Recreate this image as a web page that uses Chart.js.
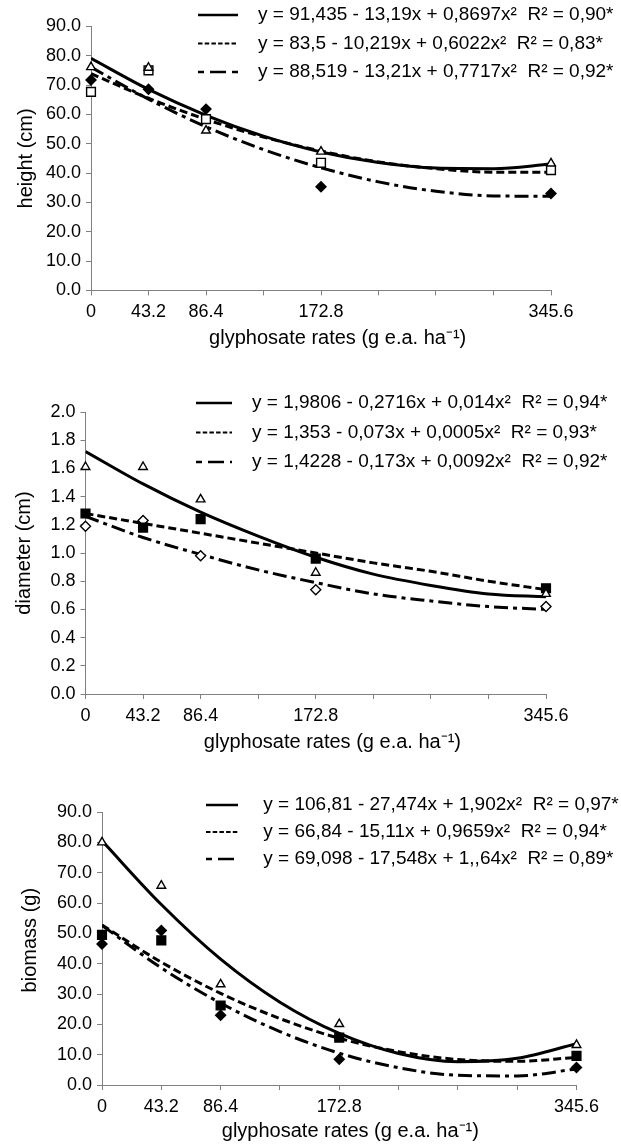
<!DOCTYPE html>
<html><head><meta charset="utf-8">
<script src="https://cdn.jsdelivr.net/npm/chart.js@4/dist/chart.umd.min.js"></script>
<style>
html,body{margin:0;padding:0;background:#fff;width:621px;height:1147px;overflow:hidden;}
canvas{position:absolute;left:0;}
</style></head><body>
<canvas id="c1" width="621" height="355" style="top:0px;width:621px;height:355px"></canvas>
<canvas id="c2" width="621" height="400" style="top:355px;width:621px;height:400px"></canvas>
<canvas id="c3" width="621" height="392" style="top:755px;width:621px;height:392px"></canvas>
<script>
// ---------- data ----------
const doses = [0, 43.2, 86.4, 172.8, 345.6];
const curveDoses = [0, 43.2, 86.4, 129.6, 172.8, 216, 259.2, 302.4, 345.6];
const xTickLabels = ['0', '43.2', '86.4', '172.8', '345.6'];
const xTitle = 'glyphosate rates (g e.a. ha\u207B\u00B9)';

// height (cm)
const heightTriangle = [76.1, 75.9, 54.5, 47.3, 43.3];
const heightSquare   = [67.7, 75.0, 58.4, 43.5, 41.0];
const heightDiamond  = [71.7, 68.6, 61.8, 35.3, 33.0];
const heightSolid    = [79.1, 68.5, 59.7, 52.6, 47.2, 43.6, 41.7, 41.5, 43.1];
const heightDashed   = [73.9, 65.5, 58.3, 52.3, 47.5, 43.8, 41.5, 40.3, 40.3];
const heightDashDot  = [76.1, 65.2, 55.8, 48.0, 41.8, 37.0, 33.8, 32.2, 32.1];
const heightLegend = [
  'y = 91,435 - 13,19x + 0,8697x\u00B2  R\u00B2 = 0,90*',
  'y = 83,5 - 10,219x + 0,6022x\u00B2  R\u00B2 = 0,83*',
  'y = 88,519 - 13,21x + 0,7717x\u00B2  R\u00B2 = 0,92*'
];

// diameter (cm)
const diamTriangle = [1.61, 1.61, 1.38, 0.86, 0.71];
const diamSquare   = [1.28, 1.18, 1.24, 0.96, 0.75];
const diamDiamond  = [1.19, 1.23, 0.98, 0.74, 0.62];
const diamSolid    = [1.72, 1.49, 1.29, 1.12, 0.97, 0.85, 0.77, 0.71, 0.69];
const diamDashed   = [1.28, 1.21, 1.14, 1.07, 1.00, 0.93, 0.87, 0.80, 0.74];
const diamDashDot  = [1.26, 1.11, 0.99, 0.88, 0.79, 0.71, 0.66, 0.62, 0.60];
const diamLegend = [
  'y = 1,9806 - 0,2716x + 0,014x\u00B2  R\u00B2 = 0,94*',
  'y = 1,353 - 0,073x + 0,0005x\u00B2  R\u00B2 = 0,93*',
  'y = 1,4228 - 0,173x + 0,0092x\u00B2  R\u00B2 = 0,92*'
];

// biomass (g)
const bioTriangle = [80.0, 65.7, 33.2, 20.1, 13.2];
const bioSquare   = [49.5, 47.7, 26.2, 15.6, 9.6];
const bioDiamond  = [46.5, 50.9, 23.0, 8.5, 5.8];
const bioSolid    = [80.5, 59.5, 41.5, 27.3, 17.0, 10.4, 7.7, 8.8, 13.6];
const bioDashed   = [52.7, 40.5, 30.2, 21.9, 15.4, 11.0, 8.4, 7.8, 9.1];
const bioDashDot  = [52.6, 38.6, 27.0, 17.6, 10.5, 5.7, 3.2, 3.0, 5.3];
const bioLegend = [
  'y = 106,81 - 27,474x + 1,902x\u00B2  R\u00B2 = 0,97*',
  'y = 66,84 - 15,11x + 0,9659x\u00B2  R\u00B2 = 0,94*',
  'y = 69,098 - 17,548x + 1,,64x\u00B2  R\u00B2 = 0,89*'
];

// ---------- rendering ----------
const FONT = "'Liberation Sans', Arial, sans-serif";
const NB = '\u00A0';
const LEG_SIZE = 19, TITLE_SIZE = 20, TICK_SIZE = 18;
const pts = (xs, ys) => ys.map((y, i) => ({x: xs[i], y}));
const lineDashes = [[], [8, 4], [14, 5, 4, 5]];
const legendDashes = [[], [4.5, 2.2], [6, 6, 16, 6]];
const legendWidths = [2.5, 1.8, 2.5];

function placeLegend(left, top) {
  return {
    id: 'placeLegend',
    afterLayout(chart) {
      const lg = chart.legend;
      lg.left = left; lg.top = top; lg.right = 621; lg.bottom = top + 200;
      lg.width = lg.right - lg.left; lg.height = 200;
    }
  };
}

function build(cfg) {
  const datasets = [];
  const curves = [cfg.solid, cfg.dashed, cfg.dashdot];
  curves.forEach((c, i) => datasets.push({
    label: cfg.legend[i], data: pts(curveDoses, c), showLine: true,
    borderColor: '#000', borderWidth: 3, borderDash: lineDashes[i],
    pointRadius: 0, pointHoverRadius: 0, cubicInterpolationMode: 'monotone', order: 1, fill: false
  }));
  const markers = [
    {d: cfg.tri, style: 'triangle', r: 5, filled: cfg.triFilled},
    {d: cfg.sq, style: 'rect', r: 6.2, filled: cfg.sqFilled},
    {d: cfg.dia, style: 'rectRot', r: 5, filled: cfg.diaFilled}
  ];
  markers.forEach(m => datasets.push({
    label: '', data: pts(doses, m.d), showLine: false, clip: false,
    pointStyle: m.style, pointRadius: m.r, pointHoverRadius: m.r,
    pointBackgroundColor: m.filled ? '#000' : '#fff', pointBorderColor: '#000',
    pointBorderWidth: 1.4, order: 0
  }));

  new Chart(document.getElementById(cfg.id), {
    type: 'scatter',
    data: {datasets},
    plugins: [placeLegend(cfg.legLeft, cfg.legTop)],
    options: {
      responsive: false, animation: false, devicePixelRatio: 1,
      layout: {padding: {left: 0, top: cfg.plotTop, right: 621 - cfg.plotRight, bottom: 0}},
      plugins: {
        tooltip: {enabled: false},
        legend: {
          display: true, position: 'chartArea', align: 'start',
          labels: {
            usePointStyle: true, pointStyleWidth: cfg.sampleW, padding: cfg.legPad,
            color: '#000', font: {family: FONT, size: LEG_SIZE},
            generateLabels: () => cfg.legend.map((t, i) => ({
              text: NB.repeat(cfg.legSpaces) + t, fillStyle: 'rgba(0,0,0,0)', strokeStyle: '#000',
              lineWidth: legendWidths[i], lineDash: legendDashes[i], lineCap: 'butt',
              pointStyle: 'line', hidden: false, datasetIndex: i, fontColor: '#000'
            }))
          }
        }
      },
      scales: {
        x: {
          type: 'linear', min: 0, max: 345.6,
          afterFit: (s) => { s.height = cfg.canvasH - cfg.plotBottom; },
          ticks: {
            stepSize: 43.2, autoSkip: false, maxRotation: 0, minRotation: 0, padding: 6,
            color: '#000', font: {family: FONT, size: TICK_SIZE},
            callback: (v) => { const k = doses.findIndex(d => Math.abs(d - v) < 1e-6); return k >= 0 ? xTickLabels[k] : ''; }
          },
          grid: {drawOnChartArea: false, drawTicks: true, tickLength: 5, color: '#808080'},
          border: {color: '#808080', width: 1},
          title: {display: true, text: NB.repeat(cfg.xTitleShift) + xTitle, color: '#000',
                  font: {family: FONT, size: TITLE_SIZE}, padding: {top: 0, bottom: cfg.xTitlePad}}
        },
        y: {
          min: 0, max: cfg.yMax,
          afterFit: (s) => { s.width = cfg.plotLeft; },
          ticks: {stepSize: cfg.yStep, padding: 5, color: '#000', font: {family: FONT, size: TICK_SIZE},
                  callback: (v) => Number(v).toFixed(1)},
          grid: {drawOnChartArea: false, drawTicks: true, tickLength: 5, color: '#808080'},
          border: {color: '#808080', width: 1},
          title: {display: true, text: NB.repeat(cfg.yTitleShift) + cfg.yTitle, color: '#000',
                  font: {family: FONT, size: TITLE_SIZE}, padding: {top: cfg.yTitlePad, bottom: 0}}
        }
      }
    }
  });
}

build({id: 'c1', canvasH: 355, plotTop: 26.4, plotBottom: 290.4, plotLeft: 91, plotRight: 551,
  yMax: 90, yStep: 10, yTitle: 'height (cm)', yTitlePad: 14, yTitleShift: 0, xTitlePad: 5, xTitleShift: 6,
  legend: heightLegend, legLeft: 188.5, legTop: -4, legPad: 9.5, sampleW: 40, legSpaces: 2,
  solid: heightSolid, dashed: heightDashed, dashdot: heightDashDot,
  tri: heightTriangle, sq: heightSquare, dia: heightDiamond, triFilled: false, sqFilled: false, diaFilled: true});

build({id: 'c2', canvasH: 400, plotTop: 57, plotBottom: 339, plotLeft: 85.5, plotRight: 546,
  yMax: 2, yStep: 0.2, yTitle: 'diameter (cm)', yTitlePad: 12, yTitleShift: 0, xTitlePad: 1, xTitleShift: 6,
  legend: diamLegend, legLeft: 185.5, legTop: 28, legPad: 10.5, sampleW: 36, legSpaces: 2,
  solid: diamSolid, dashed: diamDashed, dashdot: diamDashDot,
  tri: diamTriangle, sq: diamSquare, dia: diamDiamond, triFilled: false, sqFilled: true, diaFilled: false});

build({id: 'c3', canvasH: 392, plotTop: 57, plotBottom: 330, plotLeft: 102, plotRight: 576.5,
  yMax: 90, yStep: 10, yTitle: 'biomass (g)', yTitlePad: 18, yTitleShift: 3, xTitlePad: 3.3, xTitleShift: 4,
  legend: bioLegend, legLeft: 198, legTop: 32.5, legPad: 8, sampleW: 32, legSpaces: 3,
  solid: bioSolid, dashed: bioDashed, dashdot: bioDashDot,
  tri: bioTriangle, sq: bioSquare, dia: bioDiamond, triFilled: false, sqFilled: true, diaFilled: true});
</script>
</body></html>
